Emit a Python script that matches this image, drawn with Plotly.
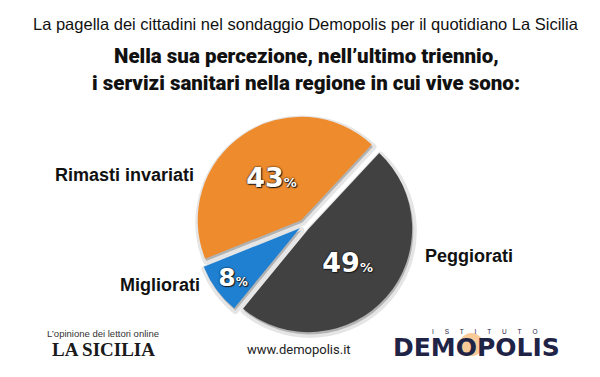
import plotly.graph_objects as go

# ---- data ----
categories = ["Peggiorati", "Migliorati", "Rimasti invariati"]
values = [49, 8, 43]
colors = ["#414141", "#1F80D2", "#EE8B2C"]

title_text = "La pagella dei cittadini nel sondaggio Demopolis per il quotidiano La Sicilia"
subtitle_lines = ["Nella sua percezione, nell\u2019ultimo triennio,",
                  "i servizi sanitari nella regione in cui vive sono:"]

W, H = 600, 377
pull = 0.055
dom_x = [0.312, 0.676]
dom_y = [0.135, 0.714]

fig = go.Figure()

# soft shadow beneath the pie
fig.add_trace(go.Pie(
    labels=categories, values=values, sort=False, direction="clockwise",
    rotation=43, pull=[pull] * 3,
    marker=dict(colors=["rgba(0,0,0,0.22)"] * 3,
                line=dict(color="rgba(0,0,0,0.10)", width=7)),
    textinfo="none", hoverinfo="skip", showlegend=False,
    domain=dict(x=[dom_x[0] + 0.002, dom_x[1] + 0.002],
                y=[dom_y[0] - 0.006, dom_y[1] - 0.006]),
))

fig.add_trace(go.Pie(
    labels=categories, values=values, sort=False, direction="clockwise",
    rotation=43, pull=[pull] * 3,
    marker=dict(colors=colors, line=dict(width=0)),
    texttemplate="%{value}<span style='font-size:13px'>%</span>",
    textposition="inside", insidetextorientation="horizontal",
    textfont=dict(family="DejaVu Sans", size=27, color="white", weight="bold",
                  shadow="0px 0px 2px #000, 1px 1px 1px #222"),
    hoverinfo="skip", showlegend=False,
    domain=dict(x=dom_x, y=dom_y),
))

ann = []
def add_text(x, y, text, size, family="Liberation Sans", color="#111", xanchor="center",
             bold=False, weight=None):
    if bold:
        text = "<b>" + text + "</b>"
    f = dict(family=family, size=size, color=color)
    if weight:
        f["weight"] = weight
    ann.append(dict(x=x / W, y=1 - y / H, xref="paper", yref="paper", text=text,
                    showarrow=False, xanchor=xanchor, yanchor="middle", font=f))

# titles
add_text(298, 16, title_text, 16.5)
add_text(298, 48, subtitle_lines[0], 20.5, family="Roboto", weight=900)
add_text(298, 75, subtitle_lines[1], 20.5, family="Roboto", weight=900)

# external slice labels
add_text(188, 167, categories[2], 18, bold=True, xanchor="right")
add_text(415, 248, categories[0], 18, bold=True, xanchor="left")
add_text(194, 277, categories[1], 18, bold=True, xanchor="right")

# footer
add_text(95, 325, "L\u2019opinione dei lettori online", 9.5, color="#333")
add_text(95, 341, "LA SICILIA", 19, family="Liberation Serif", bold=True, color="#1a1a1a")
add_text(291, 341, "www.demopolis.it", 13, family="Roboto", color="#222")
add_text(476, 323, "\u00a0\u00a0\u00a0\u00a0\u00a0\u00a0".join(list("ISTITUTO")), 6.5, color="#1F2447")
add_text(468, 339, "DEMOPOLIS", 25, family="DejaVu Sans", bold=True, color="#1F2447")

fig.update_layout(
    width=W, height=H, margin=dict(l=0, r=0, t=0, b=0),
    paper_bgcolor="white", plot_bgcolor="white",
    annotations=ann,
    shapes=[dict(type="circle", xref="paper", yref="paper",
                 x0=452 / W, x1=475 / W, y0=1 - 348 / H, y1=1 - 325 / H,
                 fillcolor="rgba(240,150,50,0.5)", line=dict(width=0), layer="below")],
)

fig.write_html("out.html")
